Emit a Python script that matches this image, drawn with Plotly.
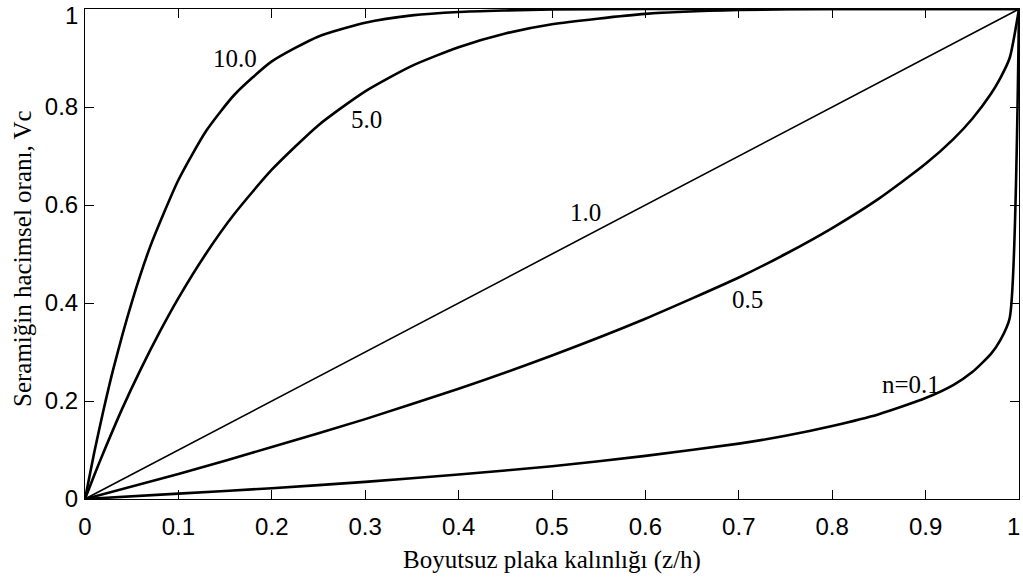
import plotly.graph_objects as go

# ---- data ----
x_n10 = [0, 0.01, 0.02, 0.03, 0.05, 0.07, 0.10, 0.13, 0.16, 0.20, 0.25, 0.30, 0.35, 0.40, 0.45, 0.50, 0.60, 0.70, 1.00]
v_n10 = [0, 0.096, 0.183, 0.263, 0.401, 0.516, 0.651, 0.752, 0.825, 0.893, 0.944, 0.972, 0.987, 0.994, 0.997, 0.999, 1.0, 1.0, 1.0]

x_n5 = [0, 0.01, 0.02, 0.04, 0.06, 0.08, 0.10, 0.13, 0.16, 0.20, 0.25, 0.30, 0.35, 0.40, 0.45, 0.50, 0.60, 0.70, 0.80, 1.00]
v_n5 = [0, 0.049, 0.096, 0.185, 0.266, 0.341, 0.410, 0.502, 0.582, 0.672, 0.763, 0.832, 0.884, 0.922, 0.950, 0.969, 0.990, 0.998, 1.0, 1.0]

x_n1 = [0, 1.0]
v_n1 = [0, 1.0]

x_n05 = [0, 0.10, 0.20, 0.30, 0.40, 0.50, 0.60, 0.70, 0.75, 0.80, 0.85, 0.90, 0.93, 0.95, 0.97, 0.98, 0.99, 1.00]
v_n05 = [0, 0.051, 0.106, 0.163, 0.225, 0.293, 0.368, 0.452, 0.500, 0.553, 0.613, 0.684, 0.735, 0.776, 0.827, 0.859, 0.900, 1.0]

x_n01 = [0, 0.10, 0.20, 0.30, 0.40, 0.50, 0.60, 0.70, 0.75, 0.80, 0.85, 0.90, 0.93, 0.95, 0.97, 0.98, 0.99, 1.00]
v_n01 = [0, 0.011, 0.022, 0.035, 0.050, 0.067, 0.088, 0.113, 0.129, 0.149, 0.173, 0.206, 0.233, 0.259, 0.296, 0.324, 0.369, 1.0]

curve_labels = ["10.0", "5.0", "1.0", "0.5", "n=0.1"]
label_x = [0.161, 0.301, 0.536, 0.709, 0.884]
label_y = [0.898, 0.774, 0.584, 0.408, 0.233]

# the last label of each axis ("1") sits at the very edge of the figure; it is drawn
# separately (see below) so that it stays inside the picture
x_ticks = [0, 0.1, 0.2, 0.3, 0.4, 0.5, 0.6, 0.7, 0.8, 0.9, 1.0]
x_ticktext = ["0", "0.1", "0.2", "0.3", "0.4", "0.5", "0.6", "0.7", "0.8", "0.9", ""]
y_ticks = [0, 0.2, 0.4, 0.6, 0.8, 1.0]
y_ticktext = ["0", "0.2", "0.4", "0.6", "0.8", ""]
edge_label = "1"

x_title = "Boyutsuz plaka kalınlığı (z/h)"
y_title = "Seramiğin hacimsel oranı, Vc"

SERIF = "Liberation Serif, Times New Roman, serif"
SANS = "Liberation Sans, Arial, Helvetica, sans-serif"

fig = go.Figure()
series = [
    (x_n10, v_n10, 2.6, "n=10.0"),
    (x_n5, v_n5, 2.6, "n=5.0"),
    (x_n1, v_n1, 1.6, "n=1.0"),
    (x_n05, v_n05, 2.6, "n=0.5"),
    (x_n01, v_n01, 2.6, "n=0.1"),
]
for xs, ys, w, name in series:
    fig.add_trace(go.Scatter(x=xs, y=ys, mode="lines", name=name,
                             line=dict(color="black", width=w, shape="spline", smoothing=0.6),
                             showlegend=False, hoverinfo="x+y"))

for t, lx, ly in zip(curve_labels, label_x, label_y):
    fig.add_annotation(x=lx, y=ly, xref="x", yref="y", text=t, showarrow=False,
                       font=dict(family=SERIF, size=25, color="black"),
                       xanchor="center", yanchor="middle")

tick_font = dict(family=SANS, size=24, color="black")
# "1" at the right end of the x axis
fig.add_annotation(x=x_ticks[-1], y=0, xref="x", yref="y", text=edge_label, showarrow=False,
                   xanchor="right", yanchor="middle", xshift=3, yshift=-27, font=tick_font)
# "1" at the top of the y axis
fig.add_annotation(x=0, y=y_ticks[-1], xref="x", yref="y", text=edge_label, showarrow=False,
                   xanchor="right", yanchor="top", xshift=-5, yshift=9, font=tick_font)

# y-axis title placed as a rotated annotation (slightly below the plot centre, as in the reference)
fig.add_annotation(x=0, y=0.5, xref="paper", yref="paper", text=y_title, showarrow=False,
                   textangle=-90, xanchor="center", yanchor="middle",
                   xshift=-63, yshift=-5,
                   font=dict(family=SERIF, size=25, color="black"))

axis_common = dict(showline=True, linecolor="black", linewidth=1, mirror="ticks",
                   ticks="inside", ticklen=9, tickwidth=1, tickcolor="black",
                   showgrid=False, zeroline=False,
                   tickfont=tick_font)

fig.update_xaxes(range=[0, 1], tickvals=x_ticks, ticktext=x_ticktext,
                 title=dict(text=x_title, font=dict(family=SERIF, size=25, color="black"), standoff=11),
                 ticklabelstandoff=6, **axis_common)
fig.update_yaxes(range=[0, 1], tickvals=y_ticks, ticktext=y_ticktext,
                 ticklabelstandoff=1, **axis_common)

fig.update_layout(width=1023, height=583,
                  margin=dict(l=85, r=4, t=9, b=84, autoexpand=False),
                  paper_bgcolor="white", plot_bgcolor="white")

fig.write_html("out.html", config={"displayModeBar": False},
               post_script="document.body.style.margin='0';document.body.style.overflow='hidden';")
